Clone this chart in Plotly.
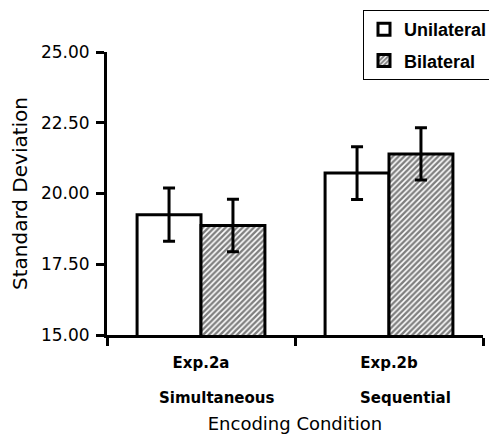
import plotly.graph_objects as go

categories = ["Exp.2a", "Exp.2b"]
conditions = ["Simultaneous", "Sequential"]
unilateral = [19.25, 20.72]
unilateral_err = [0.94, 0.93]
bilateral = [18.87, 21.40]
bilateral_err = [0.93, 0.92]
y_ticks = [15.0, 17.5, 20.0, 22.5, 25.0]

fig = go.Figure()
fig.add_trace(go.Bar(
    name="Unilateral", x=categories, y=unilateral,
    marker=dict(color="white", line=dict(color="black", width=3)),
    error_y=dict(type="data", array=unilateral_err, color="black", thickness=3, width=6),
    legendgroup="u",
))
fig.add_trace(go.Bar(
    name="Bilateral", x=categories, y=bilateral,
    marker=dict(color="white", line=dict(color="black", width=3),
                pattern=dict(shape="/", fgcolor="black", bgcolor="white", size=4, solidity=0.6)),
    error_y=dict(type="data", array=bilateral_err, color="black", thickness=3, width=6),
    legendgroup="b",
))

for cat, cond in zip(categories, conditions):
    fig.add_annotation(x=cat, y=-0.222, xref="x", yref="paper", text=cond, showarrow=False,
                       xshift=16, font=dict(family="DejaVu Sans", size=15, color="black", weight="bold"),
                       yanchor="middle")

# The page is shown with an 8px body margin, so the layout is offset by 8px.
fig.update_layout(
    width=497, height=435,
    margin=dict(l=99, r=22, t=44, b=108, autoexpand=False),
    paper_bgcolor="white", plot_bgcolor="white",
    barmode="group", bargap=0.32, bargroupgap=0,
    showlegend=True,
    legend=dict(x=355 / 497, y=1 - 2 / 435, xref="container", yref="container",
                xanchor="left", yanchor="top",
                bordercolor="black", borderwidth=1, bgcolor="white",
                font=dict(family="Liberation Sans", size=18, color="black", weight="bold"),
                tracegroupgap=5, itemwidth=30),
    xaxis=dict(
        type="category", range=[-0.5, 1.5], tickson="boundaries", automargin=False,
        showline=True, linecolor="black", linewidth=3,
        ticks="outside", ticklen=8, tickwidth=3, tickcolor="black",
        tickfont=dict(family="DejaVu Sans", size=15, color="black", weight="bold"),
        ticklabelstandoff=12,
        title=dict(text="Encoding Condition", font=dict(family="DejaVu Sans", size=18, color="black"),
                   standoff=47),
        showgrid=False, zeroline=False,
    ),
    yaxis=dict(
        range=[15, 25], tickvals=y_ticks, ticktext=[f"{v:.2f}" for v in y_ticks], automargin=False,
        showline=True, linecolor="black", linewidth=3,
        ticks="outside", ticklen=8, tickwidth=3, tickcolor="black",
        tickfont=dict(family="DejaVu Sans", size=17, color="black"),
        ticklabelstandoff=3,
        title=dict(text="Standard Deviation", font=dict(family="DejaVu Sans", size=20, color="black"),
                   standoff=8),
        showgrid=False, zeroline=False,
    ),
)

fig.write_html("out.html")
